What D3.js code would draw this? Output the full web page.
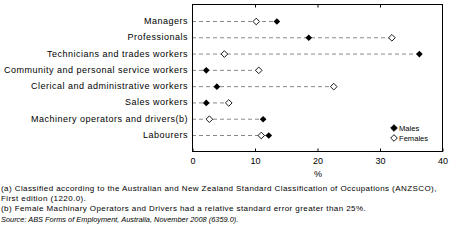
<!DOCTYPE html>
<html>
<head>
<meta charset="utf-8">
<script src="https://cdn.jsdelivr.net/npm/d3@7"></script>
<style>
  body { margin: 0; background: #fff; }
  svg { display: block; font-family: "Liberation Sans", Arial, sans-serif; }
</style>
</head>
<body>
<svg id="chart"></svg>
<script>
const categories = [
  "Managers",
  "Professionals",
  "Technicians and trades workers",
  "Community and personal service workers",
  "Clerical and administrative workers",
  "Sales workers",
  "Machinery operators and drivers(b)",
  "Labourers"
];
const males = [13.5, 18.6, 36.3, 2.2, 3.9, 2.2, 11.3, 12.2];
const females = [10.2, 31.9, 5.1, 10.6, 22.6, 5.8, 2.7, 11.0];
const xTicks = [0, 10, 20, 30, 40];
const footnotes = [
  "(a) Classified according to the Australian and New Zealand Standard Classification of Occupations (ANZSCO),",
  "First edition (1220.0).",
  "(b) Female Machinary Operators and Drivers had a relative standard error greater than 25%."
];
const source = "Source: ABS Forms of Employment, Australia, November 2008 (6359.0).";

const width = 454, height = 246;
const margin = { top: 4, left: 192, right: 12, bottom: 95 };
const svg = d3.select("#chart").attr("width", width).attr("height", height);

const x = d3.scaleLinear().domain([0, 40]).range([margin.left, width - margin.right]);
const y = d3.scalePoint().domain(categories).range([21, 135]);

const x0 = x.range()[0], x1 = x.range()[1];
const yTop = margin.top, yBot = height - margin.bottom;

// dashed guide lines to the farthest marker
svg.append("g")
  .selectAll("line")
  .data(categories)
  .join("line")
  .attr("x1", x0)
  .attr("x2", (d, i) => x(Math.max(males[i], females[i])))
  .attr("y1", d => y(d) + 0.5)
  .attr("y2", d => y(d) + 0.5)
  .attr("stroke", "#888")
  .attr("stroke-dasharray", "4,3");

// frame
svg.append("rect")
  .attr("x", x0 + 0.5).attr("y", yTop + 0.5)
  .attr("width", x1 - x0).attr("height", yBot - yTop)
  .attr("fill", "none").attr("stroke", "#000");

// bottom axis
const xAxis = d3.axisBottom(x).tickValues(xTicks).tickSize(-3).tickPadding(6);
svg.append("g")
  .attr("transform", `translate(0.5,${yBot + 0.5})`)
  .call(xAxis)
  .call(g => g.select(".domain").remove())
  .call(g => g.selectAll("text").attr("font-size", 9).attr("font-family", "Liberation Sans, Arial"));

// top ticks
svg.append("g")
  .attr("transform", `translate(0.5,${yTop + 0.5})`)
  .call(d3.axisTop(x).tickValues(xTicks.slice(1, -1)).tickSize(-3).tickFormat(""))
  .call(g => g.select(".domain").remove());

svg.append("text")
  .attr("x", x(20) + 1).attr("y", 177)
  .attr("text-anchor", "middle").attr("font-size", 9)
  .text("%");

// category labels
svg.append("g")
  .selectAll("text")
  .data(categories)
  .join("text")
  .attr("x", x0 - 4)
  .attr("y", d => y(d) + 3)
  .attr("text-anchor", "end")
  .attr("font-size", 9)
  .attr("letter-spacing", 0.5)
  .text(d => d);

const diamond = d3.symbol().type(d3.symbolDiamond2).size(28);

// females (open)
svg.append("g")
  .selectAll("path")
  .data(categories)
  .join("path")
  .attr("d", diamond)
  .attr("transform", (d, i) => `translate(${x(females[i]) + 0.5},${y(d) + 0.5})`)
  .attr("fill", "#fff").attr("stroke", "#000").attr("stroke-width", 0.9);

// males (filled)
svg.append("g")
  .selectAll("path")
  .data(categories)
  .join("path")
  .attr("d", diamond)
  .attr("transform", (d, i) => `translate(${x(males[i]) + 0.5},${y(d) + 0.5})`)
  .attr("fill", "#000");

// legend
const legend = svg.append("g").attr("transform", "translate(394,128)");
[["Males", "#000"], ["Females", "#fff"]].forEach(([name, fill], i) => {
  legend.append("path")
    .attr("d", diamond)
    .attr("transform", `translate(0,${i * 10})`)
    .attr("fill", fill).attr("stroke", "#000").attr("stroke-width", 0.9);
  legend.append("text")
    .attr("x", 5).attr("y", i * 10 + 3)
    .attr("font-size", 7.6)
    .text(name);
});

// footnotes
svg.append("g")
  .selectAll("text")
  .data(footnotes)
  .join("text")
  .attr("x", 1)
  .attr("y", (d, i) => 191 + i * 9.8)
  .attr("font-size", 8)
  .attr("letter-spacing", 0.42)
  .text(d => d);

svg.append("text")
  .attr("x", 1).attr("y", 222)
  .attr("font-size", 7.4)
  .attr("font-style", "italic")
  .text(source);
</script>
</body>
</html>
